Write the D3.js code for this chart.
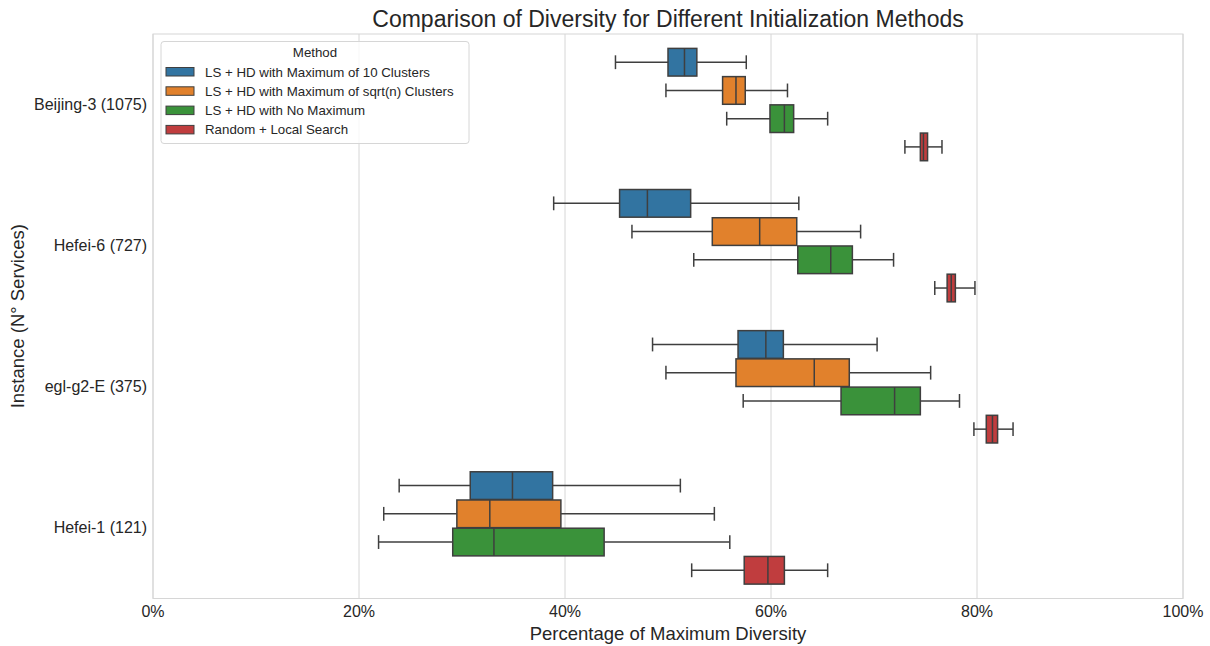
<!DOCTYPE html>
<html>
<head>
<meta charset="UTF-8">
<title>diversity boxplot</title>
<script src="https://cdn.jsdelivr.net/npm/d3@7"></script>
<style>
  body { margin: 0; background: #fff; }
  svg text { font-family: Arial, "Liberation Sans", sans-serif; fill: #262626; }
</style>
</head>
<body>
<svg id="chart" width="1210" height="646"></svg>
<script>
// categories (y axis) and hue groups
var instances = ["Beijing-3 (1075)", "Hefei-6 (727)", "egl-g2-E (375)", "Hefei-1 (121)"];
var methods = [
  "LS + HD with Maximum of 10 Clusters",
  "LS + HD with Maximum of sqrt(n) Clusters",
  "LS + HD with No Maximum",
  "Random + Local Search"
];
var colors = ["#3274a1", "#e1812c", "#3a923a", "#c03d3e"];
var xTicks = [0, 20, 40, 60, 80, 100];

// box stats in % of max diversity, [method][instance]
var whiskerLow = [
  [44.9, 38.9, 48.5, 23.9],
  [49.8, 46.5, 49.8, 22.4],
  [55.7, 52.5, 57.3, 21.9],
  [73.0, 75.9, 79.7, 52.3]
];
var q1 = [
  [50.0, 45.3, 56.8, 30.8],
  [55.3, 54.3, 56.6, 29.5],
  [59.9, 62.6, 66.8, 29.1],
  [74.5, 77.1, 80.9, 57.4]
];
var median = [
  [51.6, 48.0, 59.5, 34.9],
  [56.6, 58.9, 64.2, 32.7],
  [61.3, 65.8, 72.0, 33.1],
  [74.8, 77.5, 81.5, 59.7]
];
var q3 = [
  [52.8, 52.2, 61.2, 38.8],
  [57.5, 62.5, 67.6, 39.6],
  [62.2, 67.9, 74.5, 43.8],
  [75.2, 77.9, 82.0, 61.3]
];
var whiskerHigh = [
  [57.6, 62.7, 70.3, 51.2],
  [61.6, 68.7, 75.5, 54.5],
  [65.5, 71.9, 78.3, 56.0],
  [76.6, 79.8, 83.5, 65.5]
];

var svg = d3.select("#chart");
var margin = {left: 153, right: 27, top: 34, bottom: 47.5};
var W = 1210, H = 646;

var x = d3.scaleLinear().domain([0, 100]).range([margin.left, W - margin.right]);
var y = d3.scaleBand().domain(instances).range([margin.top, H - margin.bottom]).paddingInner(0).paddingOuter(0);
// hue offsets inside each category: 0.8 of the band
var yHue = d3.scaleBand().domain(d3.range(methods.length))
  .range([y.bandwidth() * 0.1, y.bandwidth() * 0.9]);
var boxH = yHue.bandwidth() * 0.98;

// grid
svg.append("g").selectAll("line").data(xTicks).enter().append("line")
  .attr("x1", function(d) { return x(d); }).attr("x2", function(d) { return x(d); })
  .attr("y1", margin.top).attr("y2", H - margin.bottom)
  .attr("stroke", "#d6d6d6").attr("stroke-width", 1);

// frame
svg.append("rect")
  .attr("x", margin.left).attr("y", margin.top)
  .attr("width", W - margin.left - margin.right).attr("height", H - margin.top - margin.bottom)
  .attr("fill", "none").attr("stroke", "#d6d6d6").attr("stroke-width", 1);

// boxes
var lineCol = "#3f3f3f";
methods.forEach(function(m, mi) {
  var g = svg.append("g");
  instances.forEach(function(inst, ii) {
    var cy = y(inst) + yHue(mi) + yHue.bandwidth() / 2;
    var capH = boxH / 2;
    // whiskers
    g.append("line").attr("x1", x(whiskerLow[mi][ii])).attr("x2", x(q1[mi][ii]))
      .attr("y1", cy).attr("y2", cy).attr("stroke", lineCol).attr("stroke-width", 1.5);
    g.append("line").attr("x1", x(q3[mi][ii])).attr("x2", x(whiskerHigh[mi][ii]))
      .attr("y1", cy).attr("y2", cy).attr("stroke", lineCol).attr("stroke-width", 1.5);
    [whiskerLow[mi][ii], whiskerHigh[mi][ii]].forEach(function(v) {
      g.append("line").attr("x1", x(v)).attr("x2", x(v))
        .attr("y1", cy - capH / 2).attr("y2", cy + capH / 2)
        .attr("stroke", lineCol).attr("stroke-width", 1.5);
    });
    g.append("rect")
      .attr("x", x(q1[mi][ii])).attr("y", cy - boxH / 2)
      .attr("width", x(q3[mi][ii]) - x(q1[mi][ii])).attr("height", boxH)
      .attr("fill", colors[mi]).attr("stroke", lineCol).attr("stroke-width", 1.5);
    g.append("line").attr("x1", x(median[mi][ii])).attr("x2", x(median[mi][ii]))
      .attr("y1", cy - boxH / 2).attr("y2", cy + boxH / 2)
      .attr("stroke", lineCol).attr("stroke-width", 1.5);
  });
});

// x axis labels
svg.append("g").selectAll("text").data(xTicks).enter().append("text")
  .attr("x", function(d) { return x(d); }).attr("y", 617)
  .attr("text-anchor", "middle").style("font-size", "16px")
  .text(function(d) { return d + "%"; });

// y axis labels
svg.append("g").selectAll("text").data(instances).enter().append("text")
  .attr("x", 147).attr("y", function(d) { return y(d) + y.bandwidth() / 2 + 5.5; })
  .attr("text-anchor", "end").style("font-size", "16px")
  .text(function(d) { return d; });

// axis titles
svg.append("text").attr("x", (margin.left + W - margin.right) / 2).attr("y", 640)
  .attr("text-anchor", "middle").style("font-size", "18.5px")
  .text("Percentage of Maximum Diversity");
svg.append("text")
  .attr("transform", "translate(24," + ((margin.top + H - margin.bottom) / 2) + ") rotate(-90)")
  .attr("text-anchor", "middle").style("font-size", "18.5px")
  .text("Instance (N\u00b0 Services)");

// title
svg.append("text").attr("x", (margin.left + W - margin.right) / 2).attr("y", 27)
  .attr("text-anchor", "middle").style("font-size", "23px")
  .text("Comparison of Diversity for Different Initialization Methods");

// legend
var lg = svg.append("g").attr("transform", "translate(161,41.5)");
lg.append("rect").attr("width", 308).attr("height", 102).attr("rx", 3)
  .attr("fill", "#fff").attr("fill-opacity", 0.8).attr("stroke", "#d6d6d6");
lg.append("text").attr("x", 154).attr("y", 15).attr("text-anchor", "middle")
  .style("font-size", "13.3px").text("Method");
methods.forEach(function(m, i) {
  var ry = 26 + i * 19.3;
  lg.append("rect").attr("x", 5).attr("y", ry).attr("width", 28).attr("height", 8.5)
    .attr("fill", colors[i]).attr("stroke", lineCol).attr("stroke-width", 1);
  lg.append("text").attr("x", 44).attr("y", ry + 9).style("font-size", "13.3px").text(m);
});
</script>
</body>
</html>
